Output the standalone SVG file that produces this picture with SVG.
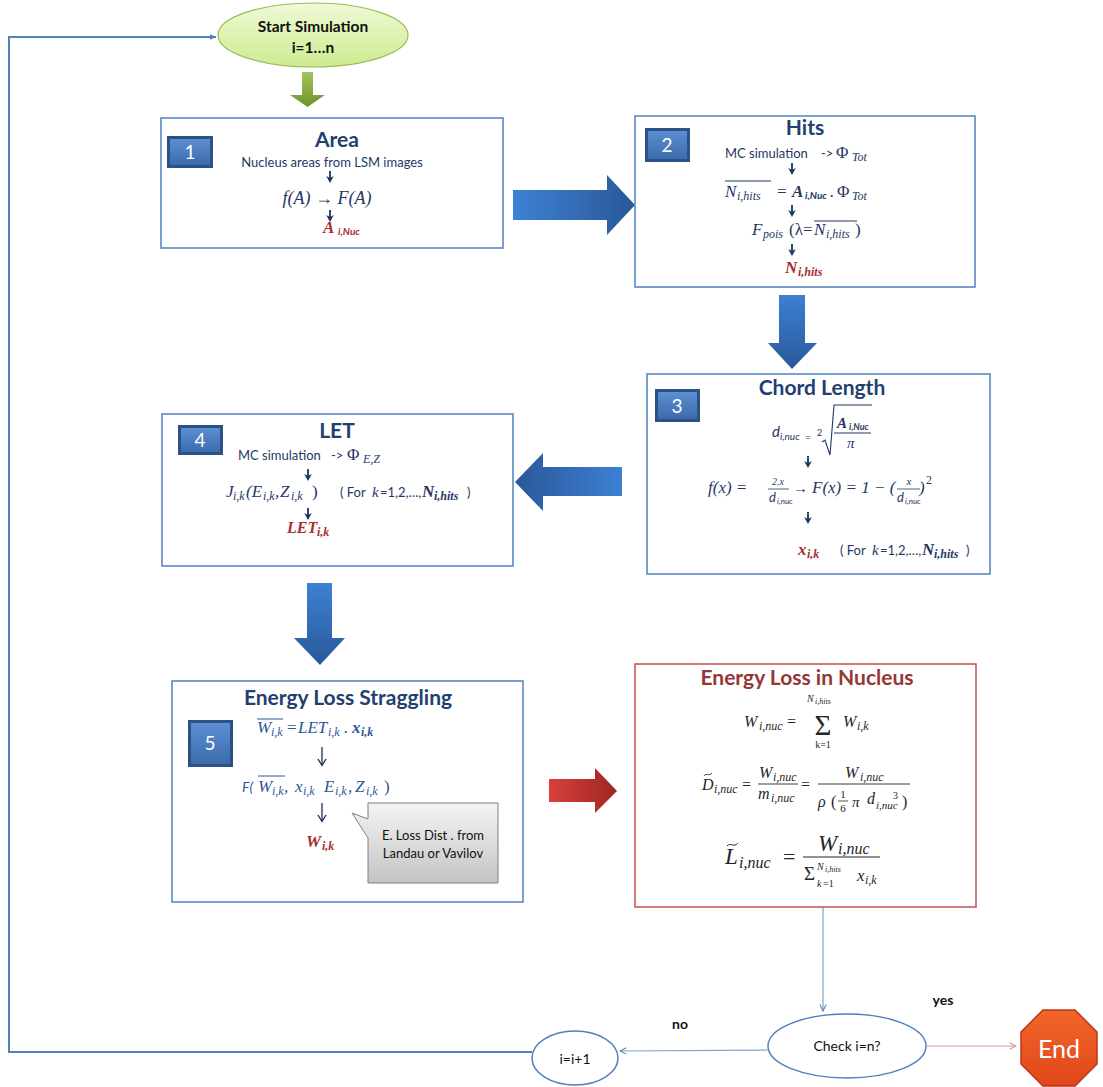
<svg xmlns="http://www.w3.org/2000/svg" width="1103" height="1087" viewBox="0 0 1103 1087">
<defs>
<linearGradient id="gR" x1="0" y1="0" x2="1" y2="0"><stop offset="0" stop-color="#3d80d4"/><stop offset="1" stop-color="#2a5898"/></linearGradient>
<linearGradient id="gL" x1="1" y1="0" x2="0" y2="0"><stop offset="0" stop-color="#3d80d4"/><stop offset="1" stop-color="#2a5898"/></linearGradient>
<linearGradient id="gD" x1="0" y1="0" x2="0" y2="1"><stop offset="0" stop-color="#3d80d4"/><stop offset="1" stop-color="#2a5898"/></linearGradient>
<linearGradient id="gRed" x1="0" y1="0" x2="1" y2="0"><stop offset="0" stop-color="#d8403c"/><stop offset="1" stop-color="#9e2622"/></linearGradient>
<linearGradient id="gGreen" x1="0" y1="0" x2="0" y2="1"><stop offset="0" stop-color="#a4c45e"/><stop offset="1" stop-color="#6f9328"/></linearGradient>
<linearGradient id="gStart" x1="0" y1="0" x2="0" y2="1"><stop offset="0" stop-color="#f0fad6"/><stop offset="1" stop-color="#cdeb90"/></linearGradient>
<linearGradient id="gBadge" x1="0" y1="0" x2="0" y2="1"><stop offset="0" stop-color="#5b8fd3"/><stop offset="1" stop-color="#3b6bab"/></linearGradient>
<linearGradient id="gCall" x1="0" y1="0" x2="0" y2="1"><stop offset="0" stop-color="#f4f4f4"/><stop offset="1" stop-color="#c4c4c4"/></linearGradient>
<linearGradient id="gEnd" x1="0" y1="0" x2="0" y2="1"><stop offset="0" stop-color="#f2662a"/><stop offset="1" stop-color="#e0461a"/></linearGradient>
<marker id="ah" viewBox="0 0 10 10" refX="9" refY="5" markerWidth="8" markerHeight="8" orient="auto" markerUnits="userSpaceOnUse"><path d="M1,1 L9,5 L1,9" fill="none" stroke="#4f81bd" stroke-width="1.3"/></marker>
<marker id="ahr" viewBox="0 0 10 10" refX="9" refY="5" markerWidth="8" markerHeight="8" orient="auto" markerUnits="userSpaceOnUse"><path d="M1,1 L9,5 L1,9" fill="none" stroke="#d99694" stroke-width="1.3"/></marker>
<marker id="ahs" viewBox="0 0 10 10" refX="9" refY="5" markerWidth="7" markerHeight="7" orient="auto" markerUnits="userSpaceOnUse"><path d="M0,1 L10,5 L0,9 Z" fill="#4f81bd"/></marker>
<g id="da"><line x1="0" y1="0" x2="0" y2="7" stroke="#17375e" stroke-width="1.8"/><path d="M-3.8,5 L0,12 L3.8,5 L0,7 Z" fill="#17375e"/></g>
<g id="ta"><line x1="0" y1="0" x2="0" y2="18" stroke="#1f2d4d" stroke-width="1.3"/><path d="M-4,12 L0,18.5 L4,12" fill="none" stroke="#1f2d4d" stroke-width="1.3"/></g>
</defs>
<style>
.box{fill:#fff;stroke:#4f81bd;stroke-width:1.5}
.ttl{font-family:Lato,"Open Sans",sans-serif;font-weight:bold;font-size:21px;fill:#223f70;text-anchor:middle}
.t{font-family:Lato,"Open Sans",sans-serif;font-size:13px;fill:#1f3864}
.m{font-family:"Liberation Serif","DejaVu Serif",serif;font-style:italic;font-size:17px;fill:#1f3864}
.s{font-family:"Liberation Serif","DejaVu Serif",serif;font-style:italic;font-size:12px;fill:#1f3864}
.sb{font-family:Lato,"Open Sans",sans-serif;font-style:italic;font-weight:bold;font-size:10px}
.b{font-weight:bold}
.red{fill:#a3302e}
.bn{font-family:Lato,"Open Sans",sans-serif;font-size:19px;fill:#fff;text-anchor:middle}
.blk{font-family:Lato,"Open Sans",sans-serif;font-size:13px;fill:#111}
.e{font-family:"Liberation Serif","DejaVu Serif",serif;font-style:italic;fill:#262626}
.c5{fill:#2e5597}
.up{font-style:normal}
</style>
<rect width="1103" height="1087" fill="#fff"/>

<g id="connectors">
<path d="M532,1052 H9 V37 H216" fill="none" stroke="#4f81bd" stroke-width="2" marker-end="url(#ahs)"/>
<line x1="823" y1="907" x2="823" y2="1011" stroke="#7ea3d0" stroke-width="1.2" marker-end="url(#ah)"/>
<line x1="768" y1="1050" x2="620" y2="1051" stroke="#7ea3d0" stroke-width="1.2" marker-end="url(#ah)"/>
<line x1="927" y1="1046" x2="1016" y2="1046" stroke="#d99694" stroke-width="1.2" marker-end="url(#ahr)"/>
<polygon points="302,72 313,72 313,95 325,95 307.5,107 290,95 302,95" fill="url(#gGreen)"/>
<polygon points="513,190 607,190 607,175 635,205 607,235 607,220 513,220" fill="url(#gR)"/>
<polygon points="779,295 805,295 805,343 817,343 792,369 768,343 779,343" fill="url(#gD)"/>
<polygon points="622,467 543,467 543,453 515,482 543,511 543,496 622,496" fill="url(#gL)"/>
<polygon points="307,583 332,583 332,638 345,638 320,665 294,638 307,638" fill="url(#gD)"/>
<polygon points="549,779 595,779 595,768 617,791 595,813 595,802 549,802" fill="url(#gRed)"/>
<text x="680" y="1029" class="blk" text-anchor="middle" font-weight="bold" style="font-size:14px">no</text>
<text x="943" y="1005" class="blk" text-anchor="middle" font-weight="bold" style="font-size:14px">yes</text>
</g>

<g id="start">
<ellipse cx="313" cy="35" rx="95" ry="32" fill="url(#gStart)" stroke="#9bbb59" stroke-width="1.2"/>
<text x="313" y="32" class="blk" text-anchor="middle" font-weight="bold" style="font-size:15.5px">Start Simulation</text>
<text x="313" y="53" class="blk" text-anchor="middle" font-weight="bold" style="font-size:15.5px">i=1…n</text>
</g>

<g id="area">
<rect class="box" x="161" y="118" width="342" height="130"/>
<rect x="167" y="136" width="46" height="32" fill="#2c5285"/><rect x="170" y="139" width="40" height="26" fill="url(#gBadge)"/>
<text x="190" y="159" class="bn">1</text>
<text x="337" y="147" class="ttl">Area</text>
<text x="332" y="167" class="t" text-anchor="middle">Nucleus areas from LSM images</text>
<use href="#da" x="330" y="171"/>
<text x="327" y="204" class="m" text-anchor="middle" style="font-size:18px">f(A) <tspan class="up">→</tspan> F(A)</text>
<use href="#da" x="330" y="210"/>
<text x="323" y="233" class="m b red">A</text><text x="338" y="235" class="sb red">i,Nuc</text>
</g>

<g id="hits">
<rect class="box" x="635" y="116" width="340" height="171"/>
<rect x="645" y="128" width="45" height="34" fill="#2c5285"/><rect x="648" y="131" width="39" height="28" fill="url(#gBadge)"/>
<text x="667" y="152" class="bn">2</text>
<text x="805" y="135" class="ttl">Hits</text>
<text x="725" y="158" class="t">MC simulation</text><text x="821" y="158" class="t">-&gt;</text>
<text x="836" y="158" class="m up">Φ</text><text x="852" y="161" class="s">Tot</text>
<use href="#da" x="792" y="163"/>
<line x1="725" y1="181" x2="771" y2="181" stroke="#1f3864" stroke-width="1"/>
<text x="725" y="197" class="m">N</text><text x="737" y="200" class="s">i,hits</text>
<text x="777" y="197" class="m up">=</text>
<text x="792" y="197" class="m b">A</text><text x="805" y="199" class="sb" fill="#1f3864">i,Nuc</text>
<text x="830" y="197" class="m">.</text><text x="837" y="197" class="m up">Φ</text><text x="852" y="200" class="s">Tot</text>
<use href="#da" x="792" y="205"/>
<text x="752" y="235" class="m">F</text><text x="763" y="238" class="s">pois</text>
<text x="789" y="235" class="m up">(λ=</text>
<line x1="814" y1="221" x2="857" y2="221" stroke="#1f3864" stroke-width="1"/>
<text x="814" y="235" class="m">N</text><text x="826" y="238" class="s">i,hits</text><text x="855" y="235" class="m up">)</text>
<use href="#da" x="792" y="244"/>
<text x="785" y="273" class="m b red">N</text><text x="798" y="276" class="s b red">i,hits</text>
</g>

<g id="chord">
<rect class="box" x="647" y="374" width="343" height="200"/>
<rect x="655" y="389" width="45" height="33" fill="#2c5285"/><rect x="658" y="392" width="39" height="27" fill="url(#gBadge)"/>
<text x="677" y="413" class="bn">3</text>
<text x="822" y="395" class="ttl">Chord Length</text>
<text x="772" y="437" font-family="Lato,sans-serif" font-style="italic" font-size="15" fill="#1f3864">d</text>
<text x="780" y="440" font-family="Lato,sans-serif" font-style="italic" font-size="10" fill="#1f3864">i,nuc</text>
<text x="805" y="441" font-family="Lato,sans-serif" font-size="10" fill="#1f3864">=</text>
<text x="817" y="436" font-family="Lato,sans-serif" font-size="9" fill="#1f3864">2</text>
<path d="M822,442 L825,440 L830,455 L834,405 L872,405" fill="none" stroke="#1f3864" stroke-width="1.1"/>
<text x="837" y="428" class="m b" style="font-size:15px">A</text><text x="849" y="430" class="sb" fill="#1f3864" style="font-size:9px">i,Nuc</text>
<line x1="834" y1="433" x2="871" y2="433" stroke="#1f3864" stroke-width="1"/>
<text x="847" y="448" class="m" style="font-size:15px">π</text>
<use href="#da" x="808" y="456"/>
<text x="708" y="493" class="m">f(x) =</text>
<text x="778" y="485" class="s" text-anchor="middle" style="font-size:10px">2.x</text>
<line x1="768" y1="489" x2="789" y2="489" stroke="#1f3864" stroke-width="0.8"/>
<text x="769" y="502" font-family="Lato,sans-serif" font-style="italic" font-size="13" fill="#1f3864">d</text><text x="777" y="504" font-family="Lato,sans-serif" font-style="italic" font-size="8" fill="#1f3864">i,nuc</text>
<text x="793" y="493" class="m up" style="font-size:15px">→</text>
<text x="812" y="493" class="m">F(x) = 1 − (</text>
<text x="909" y="485" class="s" text-anchor="middle" style="font-size:11px">x</text>
<line x1="897" y1="489" x2="920" y2="489" stroke="#1f3864" stroke-width="0.8"/>
<text x="897" y="502" font-family="Lato,sans-serif" font-style="italic" font-size="13" fill="#1f3864">d</text><text x="905" y="504" font-family="Lato,sans-serif" font-style="italic" font-size="8" fill="#1f3864">i,nuc</text>
<text x="919" y="493" class="m">)</text><text x="926" y="484" class="s up">2</text>
<use href="#da" x="808" y="512"/>
<text x="798" y="555" class="m b red">x</text><text x="807" y="558" class="s b red">i,k</text>
<text x="840" y="555" class="t">( For </text><text x="872" y="555" class="m" style="font-size:15px">k</text><text x="880" y="555" class="t">=1,2,…,</text>
<text x="922" y="555" class="m b">N</text><text x="934" y="558" class="s b">i,hits</text><text x="966" y="555" class="t">)</text>
</g>

<g id="let">
<rect class="box" x="162" y="414" width="351" height="152"/>
<rect x="178" y="425" width="45" height="30" fill="#2c5285"/><rect x="181" y="428" width="39" height="24" fill="url(#gBadge)"/>
<text x="200" y="447" class="bn">4</text>
<text x="337" y="438" class="ttl">LET</text>
<text x="238" y="460" class="t">MC simulation</text><text x="331" y="460" class="t">-&gt;</text>
<text x="347" y="460" class="m up">Φ</text><text x="363" y="463" class="s">E,Z</text>
<use href="#da" x="308" y="469"/>
<text x="226" y="497" class="m">J</text><text x="233" y="500" class="s">i,k</text>
<text x="246" y="497" class="m">(E</text><text x="263" y="500" class="s">i,k</text>
<text x="275" y="497" class="m">,</text><text x="280" y="497" class="m">Z</text><text x="291" y="500" class="s">i,k</text><text x="312" y="497" class="m up">)</text>
<text x="340" y="497" class="t">( For </text><text x="372" y="497" class="m" style="font-size:15px">k</text><text x="380" y="497" class="t">=1,2,…,</text>
<text x="422" y="497" class="m b">N</text><text x="434" y="500" class="s b">i,hits</text><text x="467" y="497" class="t">)</text>
<use href="#da" x="308" y="508"/>
<text x="287" y="533" class="m b red" style="font-size:16px">LET</text><text x="317" y="536" class="s b red">i,k</text>
</g>

<g id="straggling">
<rect class="box" x="172" y="681" width="351" height="221"/>
<rect x="188" y="720" width="45" height="47" fill="#2c5285"/><rect x="191" y="723" width="39" height="41" fill="url(#gBadge)"/>
<text x="210" y="750" class="bn">5</text>
<text x="348" y="705" class="ttl">Energy Loss Straggling</text>
<line x1="257" y1="719" x2="283" y2="719" stroke="#2e5597" stroke-width="1"/>
<text x="257" y="733" class="m c5">W</text><text x="271" y="736" class="s c5">i,k</text>
<text x="287" y="733" class="m up c5">=</text><text x="298" y="733" class="m c5">LET</text><text x="328" y="736" class="s c5">i,k</text>
<text x="344" y="733" class="m c5">.</text>
<text x="352" y="733" class="m b c5">x</text><text x="361" y="736" class="s b c5">i,k</text>
<use href="#ta" x="322" y="747"/>
<text x="242" y="792" font-family="Lato,sans-serif" font-size="14" font-style="italic" fill="#2e5597">F(</text>
<line x1="258" y1="776" x2="285" y2="776" stroke="#2e5597" stroke-width="1"/>
<text x="258" y="792" class="m c5">W</text><text x="272" y="795" class="s c5">i,k</text><text x="284" y="792" class="m c5">,</text>
<text x="295" y="792" class="m c5">x</text><text x="303" y="795" class="s c5">i,k</text>
<text x="324" y="792" class="m c5">E</text><text x="335" y="795" class="s c5">i,k</text><text x="348" y="792" class="m c5">,</text><text x="355" y="792" class="m c5">Z</text><text x="366" y="795" class="s c5">i,k</text><text x="384" y="792" class="m up c5">)</text>
<use href="#ta" x="322" y="803"/>
<text x="306" y="847" class="m b red">W</text><text x="322" y="850" class="s b red">i,k</text>
<path d="M368,803 H498 V883 H368 V838 L352,813 L368,819 Z" fill="url(#gCall)" stroke="#7f7f7f" stroke-width="1"/>
<text x="433" y="840" class="blk" text-anchor="middle">E. Loss Dist .  from</text>
<text x="433" y="858" class="blk" text-anchor="middle">Landau or Vavilov</text>
</g>

<g id="nucleus">
<rect x="635" y="664" width="341" height="243" fill="#fff" stroke="#c0504d" stroke-width="1.5"/>
<text x="807" y="685" class="ttl" style="fill:#953735">Energy Loss in Nucleus</text>
<text x="744" y="727" class="e" font-size="16">W</text><text x="759" y="730" class="e" font-size="12">i,nuc</text><text x="787" y="727" class="e up" font-size="16">=</text>
<text x="823" y="735" class="e up" font-size="29" text-anchor="middle">Σ</text>
<text x="807" y="702" class="e" font-size="10">N</text><text x="815" y="704" class="e" font-size="8">i,hits</text>
<text x="823" y="748" class="e up" font-size="10" text-anchor="middle">k=1</text>
<text x="843" y="727" class="e" font-size="16">W</text><text x="857" y="730" class="e" font-size="12">i,k</text>

<path d="M704,776 C706,772 709,777 712,773" fill="none" stroke="#262626" stroke-width="0.9"/>
<text x="702" y="790" class="e" font-size="16">D</text><text x="714" y="793" class="e" font-size="12">i,nuc</text>
<text x="742" y="790" class="e up" font-size="16">=</text>
<text x="759" y="778" class="e" font-size="16">W</text><text x="773" y="781" class="e" font-size="12">i,nuc</text>
<line x1="758" y1="784" x2="798" y2="784" stroke="#262626" stroke-width="0.9"/>
<text x="758" y="799" class="e" font-size="16">m</text><text x="771" y="802" class="e" font-size="12">i,nuc</text>
<text x="801" y="790" class="e up" font-size="16">=</text>
<text x="845" y="778" class="e" font-size="16">W</text><text x="860" y="781" class="e" font-size="12">i,nuc</text>
<line x1="818" y1="784" x2="910" y2="784" stroke="#262626" stroke-width="0.9"/>
<text x="818" y="807" class="e" font-size="16">ρ</text>
<text x="831" y="807" class="e up" font-size="16">(</text>
<text x="843" y="798" class="e up" font-size="11" text-anchor="middle">1</text>
<line x1="838" y1="801" x2="848" y2="801" stroke="#262626" stroke-width="0.8"/>
<text x="843" y="812" class="e up" font-size="11" text-anchor="middle">6</text>
<text x="852" y="807" class="e" font-size="15">π</text>
<text x="867" y="804" class="e" font-size="16">d</text><text x="876" y="809" class="e" font-size="11">i,nuc</text>
<text x="893" y="799" class="e up" font-size="10">3</text><text x="902" y="807" class="e up" font-size="16">)</text>

<path d="M727,846 C730,842 734,848 738,843" fill="none" stroke="#262626" stroke-width="1"/>
<text x="725" y="864" class="e" font-size="23">L</text><text x="739" y="868" class="e" font-size="16">i,nuc</text>
<text x="783" y="864" class="e up" font-size="22">=</text>
<text x="818" y="851" class="e" font-size="23">W</text><text x="838" y="854" class="e" font-size="16">i,nuc</text>
<line x1="803" y1="857" x2="880" y2="857" stroke="#262626" stroke-width="1"/>
<text x="804" y="880" class="e up" font-size="19">Σ</text>
<text x="817" y="870" class="e" font-size="10">N</text><text x="825" y="872" class="e" font-size="8">i,hits</text>
<text x="817" y="887" class="e" font-size="10">k</text><text x="823" y="887" class="e up" font-size="10">=1</text>
<text x="857" y="881" class="e" font-size="17">x</text><text x="865" y="884" class="e" font-size="12">i,k</text>
</g>

<g id="check">
<ellipse cx="847" cy="1046" rx="79" ry="32" fill="#fff" stroke="#4f81bd" stroke-width="1.5"/>
<text x="847" y="1051" class="blk" text-anchor="middle" style="font-size:14px">Check i=n?</text>
</g>

<g id="increment">
<ellipse cx="575" cy="1058" rx="43" ry="27" fill="#fff" stroke="#4f81bd" stroke-width="1.5"/>
<text x="575" y="1064" class="blk" text-anchor="middle" style="font-size:14px">i=i+1</text>
</g>

<g id="end">
<polygon points="1043,1010 1075,1010 1097,1032 1097,1064 1075,1086 1043,1086 1021,1064 1021,1032" fill="url(#gEnd)" stroke="#b8361a" stroke-width="1.5"/>
<text x="1059" y="1058" font-family="Lato,'Open Sans',sans-serif" font-size="25" fill="#fff" text-anchor="middle">End</text>
</g>
</svg>
